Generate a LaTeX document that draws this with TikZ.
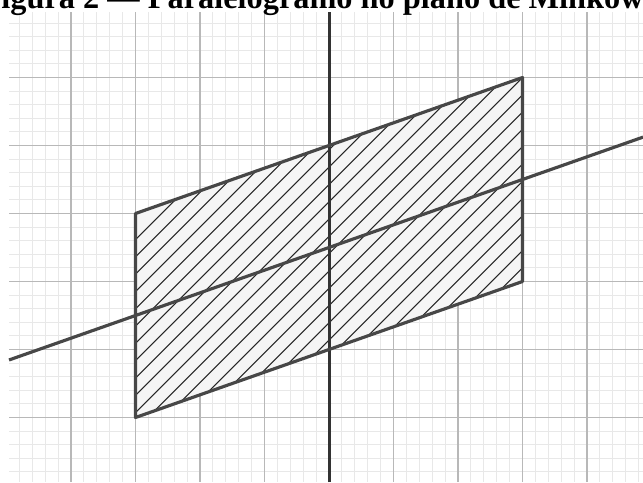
\documentclass[tikz,border=0pt]{standalone}
\usepackage{fontspec}
\setmainfont{Liberation Serif}

\begin{document}
\begin{tikzpicture}[x=0.645cm, y=0.68cm,
  grade/.style={draw=black!9, line width=0.3pt},
  gradeforte/.style={draw=black!28, line width=0.4pt},
  eixo/.style={draw=black!80, line width=0.85pt},
  borda/.style={draw=black!72, line width=0.9pt, line join=round},
  reta/.style={draw=black!72, line width=0.9pt},
  hachura/.style={draw=black!85, line width=0.3pt}
]
  \useasboundingbox (-5.101,-2.949) rectangle (4.868,4.140);
  \clip (-5.101,-2.949) rectangle (4.868,4.140);
  % grade
  \draw[grade, step=0.2] (-4.961,-2.949) grid (4.868,3.963);
  \draw[gradeforte, step=1] (-4.961,-2.949) grid (4.868,3.963);
  % vertices do paralelogramo
  \coordinate (A) at (-3,1);
  \coordinate (B) at (3,3);
  \coordinate (C) at (3,0);
  \coordinate (D) at (-3,-2);
  \fill[black!4] (A)--(B)--(C)--(D)--cycle;
  % hachura
  \begin{scope}
    \clip (A)--(B)--(C)--(D)--cycle;
    \foreach \k in {-13,...,16}
      \draw[hachura] ([xshift=\k*1.73mm]B) ++(-6cm,-6cm) -- ++(12cm,12cm);
  \end{scope}
  % eixo e reta
  \coordinate (e1) at (0,-2.949);
  \coordinate (e2) at (0,3.963);
  \draw[eixo] (e1)--(e2);
  \coordinate (r1) at (-4.961,-1.154);
  \coordinate (r2) at (4.868,2.123);
  \draw[reta] (r1)--(r2);
  \draw[borda] (A)--(B)--(C)--(D)--cycle;
  \node[anchor=base west, inner sep=0pt, font=\bfseries\fontsize{9.2}{10}\selectfont]
    (titulo) at (-5.395,4.01) {Figura 2 --- Paralelogramo no plano de Minkowski};
\end{tikzpicture}
\end{document}
